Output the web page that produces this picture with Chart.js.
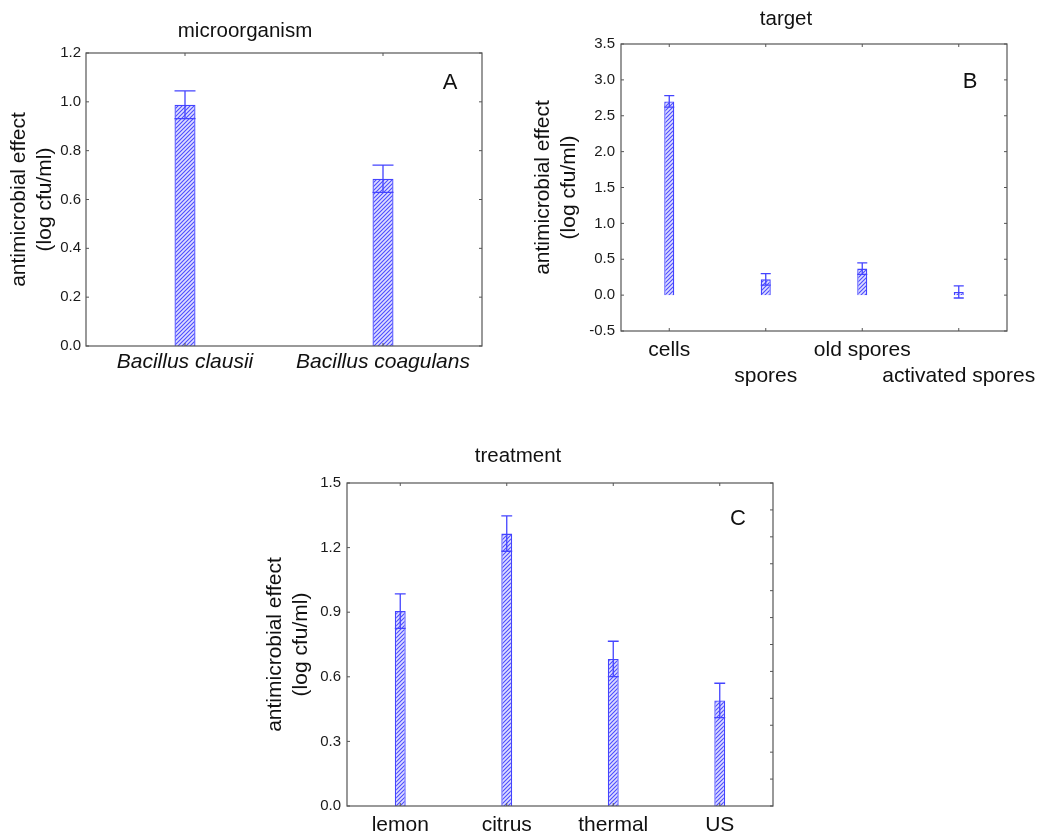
<!DOCTYPE html>
<html>
<head>
<meta charset="utf-8">
<script src="https://cdn.jsdelivr.net/npm/chart.js@4/dist/chart.umd.min.js"></script>
<style>
  html, body { margin: 0; padding: 0; background: #fff; }
  body { width: 1047px; height: 836px; position: relative; overflow: hidden; }
  .box { position: absolute; }
</style>
</head>
<body>
<div class="box" style="left:0px;top:0px;width:520px;height:400px"><canvas id="chartA"></canvas></div>
<div class="box" style="left:520px;top:0px;width:527px;height:400px"><canvas id="chartB"></canvas></div>
<div class="box" style="left:250px;top:420px;width:560px;height:416px"><canvas id="chartC"></canvas></div>
<script>
// данные панели A
const microLabels = ['Bacillus clausii', 'Bacillus coagulans'];
const microValues = [0.988, 0.685];
const microErrors = [0.057, 0.056];

// данные панели B
const targetLabels = ['cells', 'spores', 'old spores', 'activated spores'];
const targetValues = [2.70, 0.22, 0.37, 0.045];
const targetErrors = [0.08, 0.08, 0.08, 0.085];

// данные панели C
const treatLabels = ['lemon', 'citrus', 'thermal', 'US'];
const treatValues = [0.905, 1.265, 0.683, 0.49];
const treatErrors = [0.08, 0.082, 0.082, 0.08];

const yTitle = ['antimicrobial effect', '(log cfu/ml)'];
const FONT = "'Liberation Sans', Arial, sans-serif";
const BLUE = '#4444ff';
const FRAME = '#555555';

// штриховка столбцов
function hatch() {
    const c = document.createElement('canvas');
    c.width = 4; c.height = 4;
    const x = c.getContext('2d');
    x.fillStyle = '#dedeff';
    x.fillRect(0, 0, 4, 4);
    x.strokeStyle = 'rgba(60,60,255,0.9)';
    x.lineWidth = 1.1;
    x.beginPath();
    x.moveTo(0, 4); x.lineTo(4, 0);
    x.moveTo(-1, 1); x.lineTo(1, -1);
    x.moveTo(3, 5); x.lineTo(5, 3);
    x.stroke();
    return x.createPattern(c, 'repeat');
}

// рамка, внутренние риски, погрешности, заголовок и буква панели
const panelPlugin = {
    id: 'panel',
    afterDatasetsDraw(chart, args, opts) {
        const ctx = chart.ctx;
        const a = chart.chartArea;
        const xs = chart.scales.x, ys = chart.scales.y;
        const meta = chart.getDatasetMeta(0);
        ctx.save();
        // погрешности
        ctx.strokeStyle = BLUE;
        ctx.lineWidth = 1.3;
        meta.data.forEach((bar, i) => {
            const v = opts.values[i], e = opts.errors[i];
            const top = ys.getPixelForValue(v + e);
            const bot = ys.getPixelForValue(v - e);
            const hw = bar.width / 2;
            ctx.beginPath();
            ctx.moveTo(bar.x, top); ctx.lineTo(bar.x, bot);
            ctx.moveTo(bar.x - hw, top); ctx.lineTo(bar.x + hw, top);
            ctx.moveTo(bar.x - hw, bot); ctx.lineTo(bar.x + hw, bot);
            ctx.stroke();
        });
        // рамка
        ctx.strokeStyle = FRAME;
        ctx.lineWidth = 1.2;
        ctx.strokeRect(a.left, a.top, a.right - a.left, a.bottom - a.top);
        // риски
        const tl = 3;
        ctx.lineWidth = 1;
        ctx.beginPath();
        ys.ticks.forEach(t => {
            const y = ys.getPixelForValue(t.value);
            ctx.moveTo(a.left, y); ctx.lineTo(a.left + tl, y);
        });
        for (let v = ys.min; v <= ys.max + 1e-9; v += opts.rightStep) {
            const y = ys.getPixelForValue(v);
            ctx.moveTo(a.right, y); ctx.lineTo(a.right - tl, y);
        }
        xs.ticks.forEach((t, i) => {
            const x = xs.getPixelForTick(i);
            ctx.moveTo(x, a.top); ctx.lineTo(x, a.top + tl);
            ctx.moveTo(x, a.bottom); ctx.lineTo(x, a.bottom - tl);
        });
        ctx.stroke();
        // заголовок
        ctx.fillStyle = '#111';
        ctx.textAlign = 'center';
        ctx.textBaseline = 'middle';
        ctx.font = '20.5px ' + FONT;
        ctx.fillText(opts.title, a.left + opts.titleDx, a.top + opts.titleDy);
        // буква
        ctx.font = '22px ' + FONT;
        ctx.fillText(opts.letter, a.right - opts.letterDx, a.top + opts.letterDy);
        ctx.restore();
    }
};

function makeChart(id, cfg) {
    return new Chart(document.getElementById(id), {
        type: 'bar',
        data: {
            labels: cfg.labels,
            datasets: [{
                data: cfg.values,
                backgroundColor: hatch(),
                borderColor: BLUE,
                borderWidth: 1.3,
                barPercentage: cfg.barPct,
                categoryPercentage: 1
            }]
        },
        options: {
            responsive: true,
            maintainAspectRatio: false,
            animation: false,
            layout: { padding: cfg.padding },
            plugins: {
                legend: { display: false },
                tooltip: { enabled: false },
                panel: {
                    values: cfg.values, errors: cfg.errors, rightStep: cfg.rightStep,
                    title: cfg.title, titleDx: cfg.titleDx, titleDy: cfg.titleDy,
                    letter: cfg.letter, letterDx: cfg.letterDx, letterDy: cfg.letterDy
                }
            },
            scales: {
                x: {
                    offset: true,
                    grid: { display: false, drawTicks: false },
                    border: { display: false },
                    afterFit: s => { s.height = cfg.xHeight; },
                    ticks: {
                        autoSkip: false, maxRotation: 0, minRotation: 0,
                        padding: cfg.xPad, color: '#111',
                        font: { family: FONT, size: 21, style: cfg.italic ? 'italic' : 'normal', lineHeight: 1.23 },
                        callback: cfg.xCallback || function (v, i) { return cfg.labels[i]; }
                    }
                },
                y: {
                    min: cfg.yMin, max: cfg.yMax,
                    grid: { display: false, drawTicks: false },
                    border: { display: false },
                    afterFit: s => { s.width = cfg.yWidth; },
                    ticks: {
                        stepSize: cfg.yStep, padding: cfg.yPad, color: '#1a1a1a',
                        font: { family: FONT, size: 15 },
                        callback: v => v.toFixed(1)
                    },
                    title: {
                        display: true, text: yTitle, color: '#111',
                        font: { family: FONT, size: 21, lineHeight: 1.2 },
                        padding: { top: cfg.yTitlePad, bottom: 0 }
                    }
                }
            }
        },
        plugins: [panelPlugin]
    });
}

makeChart('chartA', {
    labels: microLabels, values: microValues, errors: microErrors,
    yMin: 0, yMax: 1.2, yStep: 0.2, rightStep: 0.2,
    barPct: 0.106, italic: true,
    padding: { left: 0, top: 53, right: 38, bottom: 0 },
    yWidth: 86, xHeight: 54, xPad: 3.5, yPad: 5, yTitlePad: 7,
    title: 'microorganism', titleDx: 159, titleDy: -22,
    letter: 'A', letterDx: 32, letterDy: 30
});

makeChart('chartB', {
    labels: targetLabels, values: targetValues, errors: targetErrors,
    yMin: -0.5, yMax: 3.5, yStep: 0.5, rightStep: 0.5,
    barPct: 0.104, italic: false,
    padding: { left: 0, top: 44, right: 40, bottom: 0 },
    yWidth: 101, xHeight: 69, xPad: 6, yPad: 6, yTitlePad: 11,
    xCallback: (v, i) => i % 2 === 0 ? [targetLabels[i]] : ['', targetLabels[i]],
    title: 'target', titleDx: 165, titleDy: -25,
    letter: 'B', letterDx: 37, letterDy: 38
});

makeChart('chartC', {
    labels: treatLabels, values: treatValues, errors: treatErrors,
    yMin: 0, yMax: 1.5, yStep: 0.3, rightStep: 0.125,
    barPct: 0.102, italic: false,
    padding: { left: 0, top: 63, right: 37, bottom: 0 },
    yWidth: 97, xHeight: 30, xPad: 6, yPad: 6, yTitlePad: 13,
    title: 'treatment', titleDx: 171, titleDy: -27,
    letter: 'C', letterDx: 35, letterDy: 36
});
</script>
</body>
</html>
